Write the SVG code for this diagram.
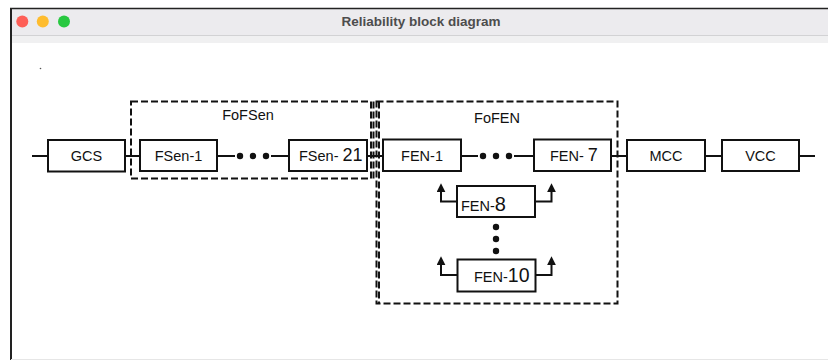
<svg xmlns="http://www.w3.org/2000/svg" width="828" height="360" viewBox="0 0 828 360">
<style>
.box{fill:#fff;stroke:#111;stroke-width:2}
.grp{fill:none;stroke:#111;stroke-width:2;stroke-dasharray:7 3}
.ln{fill:none;stroke:#111;stroke-width:2}
.t{font-family:"Liberation Sans",Arial,sans-serif;font-size:14.5px;fill:#111;text-anchor:middle}
.tl{font-family:"Liberation Sans",Arial,sans-serif;font-size:14.5px;fill:#111}
.big{font-size:18px}
.dot{fill:#111}
</style>
<defs>
<marker id="ah" viewBox="0 0 10 10" refX="7" refY="5" markerWidth="9" markerHeight="9" markerUnits="userSpaceOnUse" orient="auto">
<path d="M0,0 L10,5 L0,10 Z" fill="#111"/>
</marker>
</defs>
<rect x="0" y="0" width="828" height="360" fill="#fff"/>
<g id="window">
<rect x="11" y="8" width="817" height="28" fill="#ECEBEE"/>
<rect x="11" y="36" width="817" height="7" fill="#F0F0F1"/>
<line x1="11" y1="35.5" x2="828" y2="35.5" stroke="#D2D2D4" stroke-width="1"/>
<line x1="10" y1="8.5" x2="828" y2="8.5" stroke="#222" stroke-width="1.5"/>
<line x1="11" y1="8" x2="11" y2="360" stroke="#222" stroke-width="2"/>
<line x1="11" y1="359.5" x2="828" y2="359.5" stroke="#E6E6E6" stroke-width="1"/>
<circle cx="22.3" cy="21.5" r="6" fill="#FE5F57"/>
<circle cx="42.8" cy="21.5" r="6" fill="#FEBC2E"/>
<circle cx="64" cy="21.5" r="6" fill="#28C840"/>
<text x="421" y="26" font-family="'Liberation Sans',Arial,sans-serif" font-size="13.5" font-weight="bold" fill="#4D4D4D" text-anchor="middle">Reliability block diagram</text>
<circle cx="40.5" cy="68.5" r="0.8" fill="#555"/>
</g>
<g id="FoFSen">
<rect class="grp" x="131" y="101.5" width="240" height="77"/>
<line class="grp" x1="373.5" y1="101.5" x2="373.5" y2="178.5"/>
<text class="t" x="248" y="120">FoFSen</text>
</g>
<g id="FoFEN">
<rect class="grp" x="376.5" y="101.5" width="241" height="202"/>
<line class="grp" x1="379" y1="101.5" x2="379" y2="303.5"/>
<text class="t" x="497" y="123">FoFEN</text>
</g>
<g id="connectors">
<line class="ln" x1="32" y1="156" x2="48" y2="156"/>
<line class="ln" x1="125" y1="156" x2="140" y2="156"/>
<line class="ln" x1="217" y1="156" x2="235" y2="156"/>
<circle class="dot" cx="240" cy="156" r="3.2"/>
<circle class="dot" cx="253" cy="156" r="3.2"/>
<circle class="dot" cx="266" cy="156" r="3.2"/>
<line class="ln" x1="271" y1="156" x2="289" y2="156"/>
<line class="ln" x1="367" y1="156" x2="383" y2="156"/>
<line class="ln" x1="461" y1="156" x2="478" y2="156"/>
<circle class="dot" cx="483" cy="156" r="3.2"/>
<circle class="dot" cx="496" cy="156" r="3.2"/>
<circle class="dot" cx="509" cy="156" r="3.2"/>
<line class="ln" x1="514" y1="156" x2="534" y2="156"/>
<line class="ln" x1="611" y1="156" x2="627" y2="156"/>
<line class="ln" x1="705" y1="156" x2="722" y2="156"/>
<line class="ln" x1="799" y1="156" x2="815" y2="156"/>
<polyline class="ln" points="457,201.5 441,201.5 441,186" marker-end="url(#ah)"/>
<polyline class="ln" points="535,201.5 551.5,201.5 551.5,186" marker-end="url(#ah)"/>
<polyline class="ln" points="457,275 441,275 441,259" marker-end="url(#ah)"/>
<polyline class="ln" points="536,275 551.5,275 551.5,259" marker-end="url(#ah)"/>
<circle class="dot" cx="496" cy="227" r="3.2"/>
<circle class="dot" cx="496" cy="239" r="3.2"/>
<circle class="dot" cx="496" cy="251" r="3.2"/>
</g>
<g id="GCS">
<rect class="box" x="48" y="140" width="77" height="31.5"/>
<text class="t" x="86.5" y="161">GCS</text>
</g>
<g id="FSen-1">
<rect class="box" x="140" y="140" width="77" height="31"/>
<text class="t" x="178.5" y="161">FSen-1</text>
</g>
<g id="FSen-21">
<rect class="box" x="289" y="140" width="78" height="31"/>
<text class="tl" x="299" y="161">FSen- <tspan class="big">21</tspan></text>
</g>
<g id="FEN-1">
<rect class="box" x="383" y="139.5" width="78" height="31.5"/>
<text class="t" x="422" y="161">FEN-1</text>
</g>
<g id="FEN-7">
<rect class="box" x="534" y="139.5" width="77" height="31.5"/>
<text class="tl" x="550" y="161">FEN- <tspan class="big">7</tspan></text>
</g>
<g id="MCC">
<rect class="box" x="627" y="140" width="78" height="31"/>
<text class="t" x="666" y="161">MCC</text>
</g>
<g id="VCC">
<rect class="box" x="722" y="140" width="77" height="31"/>
<text class="t" x="760.5" y="161">VCC</text>
</g>
<g id="FEN-8">
<rect class="box" x="457" y="186" width="78" height="31"/>
<text class="tl" x="461" y="211" font-size="16.5">FEN-<tspan font-size="20">8</tspan></text>
</g>
<g id="FEN-10">
<rect class="box" x="457.5" y="259.5" width="78" height="32"/>
<text class="tl" x="474" y="282" font-size="17">FEN-<tspan font-size="19.5">10</tspan></text>
</g>
</svg>
